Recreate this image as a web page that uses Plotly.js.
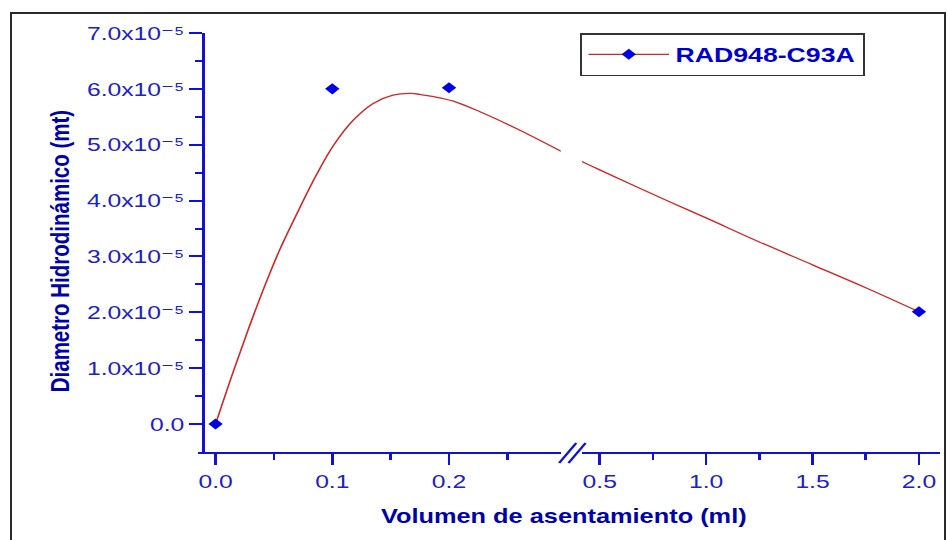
<!DOCTYPE html>
<html>
<head>
<meta charset="utf-8">
<script src="https://cdn.plot.ly/plotly-3.0.1.min.js"></script>
<style>
  html, body { margin: 0; padding: 0; background: #ffffff; overflow: hidden; }
  #wrap { position: relative; width: 948px; height: 540px; overflow: hidden; }
  #plot { position: absolute; left: 0; top: 0; width: 729px; height: 540px;
          transform: scaleX(1.3); transform-origin: 0 0; }
  #frame { position: absolute; left: 10px; top: 12px; width: 936px; height: 600px;
           border: 2px solid #2a2a2a; box-sizing: border-box; pointer-events: none; }
</style>
</head>
<body>
<div id="wrap">
  <div id="plot"></div>
  <div id="frame"></div>
</div>
<script>
// ---- data ----
var seriesName = 'RAD948-C93A';
var volumes   = [0, 0.1, 0.2, 2.0];                 // ml
var diameters = [0, 6.00e-5, 6.02e-5, 2.01e-5];     // mt

// fitted curve (red line)
var fitX = [0, 0.0157, 0.0299, 0.0442, 0.0556, 0.0726, 0.0869, 0.1011, 0.118, 0.135, 0.152, 0.168, 0.175, 0.187, 0.2037, 0.2265, 0.2607, 0.299,
            0.4156, 0.5, 0.828, 1.0, 1.25, 1.5, 1.75, 2.0];
var fitY = [0, 0.97e-5, 1.80e-5, 2.58e-5, 3.15e-5, 3.89e-5, 4.48e-5, 4.99e-5, 5.44e-5, 5.74e-5, 5.89e-5, 5.92e-5, 5.90e-5, 5.86e-5, 5.78e-5, 5.59e-5, 5.26e-5, 4.85e-5,
            4.70e-5, 4.55e-5, 3.98e-5, 3.69e-5, 3.26e-5, 2.85e-5, 2.44e-5, 2.01e-5];

var xTicksLow  = [0, 0.1, 0.2];
var xTextLow   = ['0.0', '0.1', '0.2'];
var xTicksHigh = [0.5, 1.0, 1.5, 2.0];
var xTextHigh  = ['0.5', '1.0', '1.5', '2.0'];
var yTicks = [0, 1e-5, 2e-5, 3e-5, 4e-5, 5e-5, 6e-5, 7e-5];
var yText  = ['0.0', '1.0x10\u207B\u2075', '2.0x10\u207B\u2075', '3.0x10\u207B\u2075',
              '4.0x10\u207B\u2075', '5.0x10\u207B\u2075', '6.0x10\u207B\u2075', '7.0x10\u207B\u2075'];
var xTitle = 'Volumen de asentamiento (ml)';
var yTitle = 'Diametro Hidrodinámico (mt)';

// ---- split at the axis break ----
var BREAK = 0.35;
function pick(xs, ys, low) {
  var ox = [], oy = [];
  for (var i = 0; i < xs.length; i++) {
    if ((low && xs[i] < BREAK) || (!low && xs[i] > BREAK)) { ox.push(xs[i]); oy.push(ys[i]); }
  }
  return {x: ox, y: oy};
}
var fitLo = pick(fitX, fitY, true), fitHi = pick(fitX, fitY, false);
var ptLo = pick(volumes, diameters, true), ptHi = pick(volumes, diameters, false);

var RED = '#cc2b2b', BLUE = '#0000e6', AX = '#1010d8', TICKC = '#2020c4', TITLEC = '#0000a8';
var FONT = 'Liberation Sans, Arial, DejaVu Sans, sans-serif';

var lineStyle = {color: RED, width: 1.3, shape: 'spline', smoothing: 1};
var markStyle = {symbol: 'diamond', size: 8.5, color: BLUE};

var traces = [
  {x: fitLo.x, y: fitLo.y, xaxis: 'x', yaxis: 'y', mode: 'lines', line: lineStyle, showlegend: false, hoverinfo: 'skip'},
  {x: fitHi.x, y: fitHi.y, xaxis: 'x2', yaxis: 'y', mode: 'lines', line: lineStyle, showlegend: false, hoverinfo: 'skip'},
  {x: ptLo.x, y: ptLo.y, xaxis: 'x', yaxis: 'y', mode: 'markers', marker: markStyle, showlegend: false, cliponaxis: false},
  {x: ptHi.x, y: ptHi.y, xaxis: 'x2', yaxis: 'y', mode: 'markers', marker: markStyle, showlegend: false, cliponaxis: false},
  {x: [null], y: [null], xaxis: 'x', yaxis: 'y', mode: 'lines+markers', name: '<b>' + seriesName + '</b>',
   line: {color: RED, width: 1.3}, marker: markStyle, showlegend: true}
];

function xAxisBase(dom, rng, tv, tt, minorVals) {
  return {
    domain: dom, range: rng, anchor: 'y',
    tickmode: 'array', tickvals: tv, ticktext: tt,
    ticks: 'outside', ticklen: 11, tickwidth: 2, tickcolor: AX,
    showline: true, linewidth: 2, linecolor: AX,
    showgrid: false, zeroline: false,
    tickfont: {family: FONT, size: 19, color: TICKC},
    minor: {tickmode: 'array', tickvals: minorVals, ticks: 'outside', ticklen: 6, tickwidth: 2, tickcolor: AX, showgrid: false},
    fixedrange: true
  };
}

var layout = {
  width: 729, height: 540,
  margin: {l: 151.5, r: 5.5, t: 33, b: 88},
  paper_bgcolor: '#ffffff', plot_bgcolor: '#ffffff',
  font: {family: FONT, color: TICKC},
  xaxis: xAxisBase([0, 0.4892], [-0.01538, 0.2957], xTicksLow, xTextLow, [0.05, 0.15, 0.25]),
  xaxis2: xAxisBase([0.5175, 1], [0.41563, 2.09844], xTicksHigh, xTextHigh, [0.75, 1.25, 1.75]),
  yaxis: {
    domain: [0, 1], range: [-0.5e-5, 7.0e-5], anchor: 'free', position: 0.00806,
    tickmode: 'array', tickvals: yTicks, ticktext: yText,
    ticks: 'outside', ticklen: 10, tickwidth: 2, tickcolor: AX,
    showline: true, linewidth: 2, linecolor: AX,
    showgrid: false, zeroline: false,
    tickfont: {family: FONT, size: 19, color: TICKC},
    minor: {tickmode: 'array', tickvals: [0.5e-5, 1.5e-5, 2.5e-5, 3.5e-5, 4.5e-5, 5.5e-5, 6.5e-5],
            ticks: 'outside', ticklen: 5.4, tickwidth: 2, tickcolor: AX, showgrid: false},
    fixedrange: true
  },
  showlegend: true,
  legend: {
    x: 0.5152, y: 1.0, xanchor: 'left', yanchor: 'top',
    bgcolor: '#ffffff', bordercolor: '#333333', borderwidth: 1.5,
    font: {family: FONT, size: 20.5, color: '#0000cc'},
    itemwidth: 62
  },
  annotations: [
    {text: '<b>' + xTitle + '</b>', xref: 'paper', yref: 'paper', x: 0.493, y: -0.1527,
     xanchor: 'center', yanchor: 'middle', showarrow: false,
     font: {family: FONT, size: 19.5, color: TITLEC}},
    {text: '<b>' + yTitle + '</b>', xref: 'paper', yref: 'paper', x: -0.1869, y: 0.4797,
     xanchor: 'center', yanchor: 'middle', showarrow: false, textangle: -90,
     font: {family: FONT, size: 20.5, color: TITLEC}}
  ],
  shapes: [
    {type: 'line', xref: 'paper', yref: 'paper', x0: 0.4871, y0: -0.02625, x1: 0.5101, y1: 0.0215, line: {color: AX, width: 2}},
    {type: 'line', xref: 'paper', yref: 'paper', x0: 0.4997, y0: -0.02625, x1: 0.5227, y1: 0.0215, line: {color: AX, width: 2}}
  ]
};

Plotly.newPlot('plot', traces, layout, {displayModeBar: false, staticPlot: true});
</script>
</body>
</html>
